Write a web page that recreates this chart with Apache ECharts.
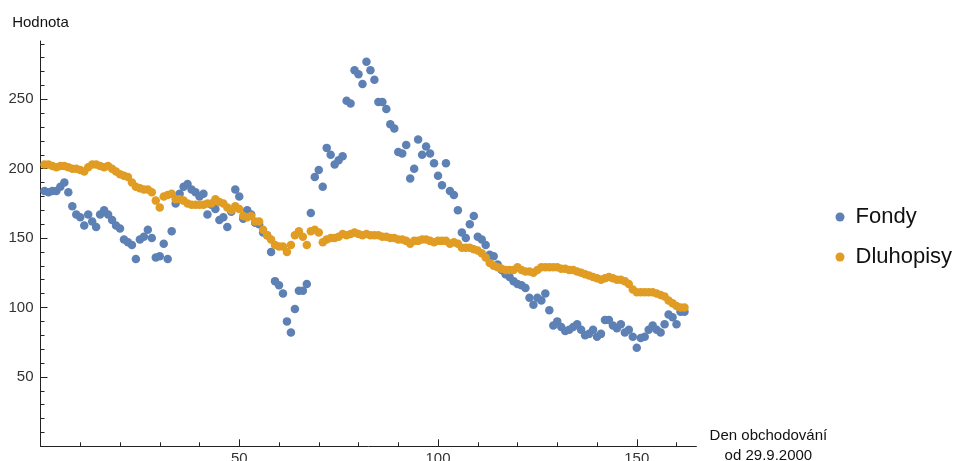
<!DOCTYPE html>
<html>
<head>
<meta charset="utf-8">
<script src="https://cdn.jsdelivr.net/npm/echarts@6/dist/echarts.min.js"></script>
<style>
  html, body { margin: 0; padding: 0; background: #ffffff; }
  #chart { width: 980px; height: 461px; }
</style>
</head>
<body>
<div id="chart"></div>
<script>
// Trading-day values, day 1 .. 162 (from 29.9.2000)
const fondy = [
  184, 183, 184, 184, 187, 190, 183, 173, 167, 165,
  159, 167, 162, 158, 167, 170, 167, 163, 159, 157,
  149, 147, 145, 135, 149, 151, 156, 150, 136, 137,
  146, 135, 155, 175, 182, 187, 189, 185, 183, 180,
  182, 167, 174, 171, 163, 165, 158, 169, 185, 180,
  164, 170, 167, 161, 160, 154, 152, 140, 119, 116,
  110, 90, 82, 99, 112, 112, 117, 168, 194, 199,
  187, 215, 210, 203, 206, 209, 249, 247, 271, 268,
  261, 277, 271, 264, 248, 248, 243, 232, 229, 212,
  211, 217, 193, 200, 221, 210, 216, 211, 204, 195,
  188, 204, 184, 181, 170, 154, 150, 160, 166, 151,
  149, 145, 138, 137, 131, 127, 124, 122, 119, 117,
  116, 114, 107, 102, 107, 105, 110, 98, 87, 90,
  86, 83, 84, 86, 88, 84, 80, 81, 84, 79,
  81, 91, 91, 87, 85, 88, 82, 84, 79, 71,
  78, 79, 84, 87, 84, 82, 88, 95, 93, 88,
  97, 97
];

const dluhopisy = [
  203, 203, 202, 201, 202, 202, 201, 200, 200, 199,
  198, 201, 203, 203, 202, 201, 202, 200, 198, 196,
  195, 194, 190, 187, 186, 185, 185, 183, 177, 172,
  180, 181, 182, 178, 178, 177, 175, 174, 174, 174,
  174, 175, 175, 178, 176, 175, 172, 170, 173, 171,
  166, 165, 166, 162, 162, 156, 152, 149, 145, 144,
  144, 140, 145, 152, 155, 151, 145, 155, 156, 154,
  147, 149, 150, 150, 151, 153, 152, 153, 154, 153,
  152, 153, 152, 152, 152, 151, 151, 150, 150, 149,
  149, 148, 146, 148, 148, 149, 149, 148, 147, 148,
  148, 148, 146, 147, 146, 143, 143, 143, 142, 141,
  139, 136, 132, 130, 129, 128, 127, 127, 127, 129,
  127, 126, 126, 125, 127, 129, 129, 129, 129, 129,
  128, 128, 127, 127, 126, 125, 124, 123, 122, 121,
  120, 121, 122, 121, 120, 120, 119, 117, 113, 111,
  111, 111, 111, 111, 110, 109, 108, 105, 103, 101,
  100, 100
];

const xMajorTicks = [0, 50, 100, 150];
const xTickLabels = [50, 100, 150];
const yMajorTicks = [50, 100, 150, 200, 250];
const xMinorTicks = [10, 20, 30, 40, 60, 70, 80, 90, 110, 120, 130, 140, 160];
const yMinorTicks = [10, 20, 30, 40, 60, 70, 80, 90, 110, 120, 130, 140,
                     160, 170, 180, 190, 210, 220, 230, 240, 260, 270, 280, 290];

const toPoints = arr => arr.map((v, i) => [i + 1, v]);

const FONT = '"Liberation Sans", Arial, sans-serif';
const AXIS_COLOR = '#222';
const LABEL_COLOR = '#333';

const chart = echarts.init(document.getElementById('chart'), null, { renderer: 'canvas' });

const baseX = {
  type: 'value', gridIndex: 0, min: 0, max: 165, position: 'bottom',
  splitLine: { show: false }
};
const baseY = {
  type: 'value', gridIndex: 0, min: 0, max: 292, position: 'left',
  splitLine: { show: false }
};

chart.setOption({
  animation: false,
  backgroundColor: '#ffffff',
  textStyle: { fontFamily: FONT },
  grid: {
    left: 40.5, right: 283.6, top: 41.0, bottom: 14.7,
    containLabel: false, outerBoundsMode: 'none'
  },
  legend: {
    data: ['Fondy', 'Dluhopisy'],
    orient: 'vertical',
    left: 830.5,
    top: 201,
    icon: 'circle',
    itemWidth: 9,
    itemHeight: 9,
    itemGap: 18,
    textStyle: { fontSize: 22, color: '#111', fontFamily: FONT, padding: [0, 0, 0, 6] }
  },
  xAxis: [
    Object.assign({}, baseX, {
      interval: 50,
      name: 'Den obchodování\nod 29.9.2000',
      nameLocation: 'end',
      nameGap: 72,
      nameTextStyle: { fontSize: 15, color: '#111', align: 'center', verticalAlign: 'middle',
                       lineHeight: 20, fontFamily: FONT },
      axisLine: { show: true, onZero: true, lineStyle: { color: AXIS_COLOR, width: 1 } },
      axisTick: { show: true, inside: true, length: 7, customValues: xMajorTicks, lineStyle: { color: AXIS_COLOR } },
      axisLabel: { show: true, fontSize: 15, color: LABEL_COLOR, margin: 5,
                   customValues: xTickLabels, fontFamily: FONT }
    }),
    Object.assign({}, baseX, {
      axisLine: { show: false },
      axisTick: { show: true, inside: true, length: 4, customValues: xMinorTicks, lineStyle: { color: AXIS_COLOR } },
      axisLabel: { show: false }
    })
  ],
  yAxis: [
    Object.assign({}, baseY, {
      interval: 50,
      name: 'Hodnota',
      nameLocation: 'end',
      nameGap: 11,
      nameTextStyle: { fontSize: 15, color: '#111', align: 'center', fontFamily: FONT },
      axisLine: { show: true, onZero: true, lineStyle: { color: AXIS_COLOR, width: 1 } },
      axisTick: { show: true, inside: true, length: 7, customValues: yMajorTicks, lineStyle: { color: AXIS_COLOR } },
      axisLabel: { show: true, fontSize: 15, color: LABEL_COLOR, margin: 7,
                   customValues: yMajorTicks, fontFamily: FONT }
    }),
    Object.assign({}, baseY, {
      axisLine: { show: false },
      axisTick: { show: true, inside: true, length: 4, customValues: yMinorTicks, lineStyle: { color: AXIS_COLOR } },
      axisLabel: { show: false }
    })
  ],
  series: [
    {
      name: 'Fondy',
      type: 'scatter',
      xAxisIndex: 0, yAxisIndex: 0,
      data: toPoints(fondy),
      symbolSize: 8.5,
      itemStyle: { color: '#5E81B5', opacity: 1 }
    },
    {
      name: 'Dluhopisy',
      type: 'scatter',
      xAxisIndex: 0, yAxisIndex: 0,
      data: toPoints(dluhopisy),
      symbolSize: 8.5,
      itemStyle: { color: '#E19C24', opacity: 1 }
    }
  ]
});
</script>
</body>
</html>
